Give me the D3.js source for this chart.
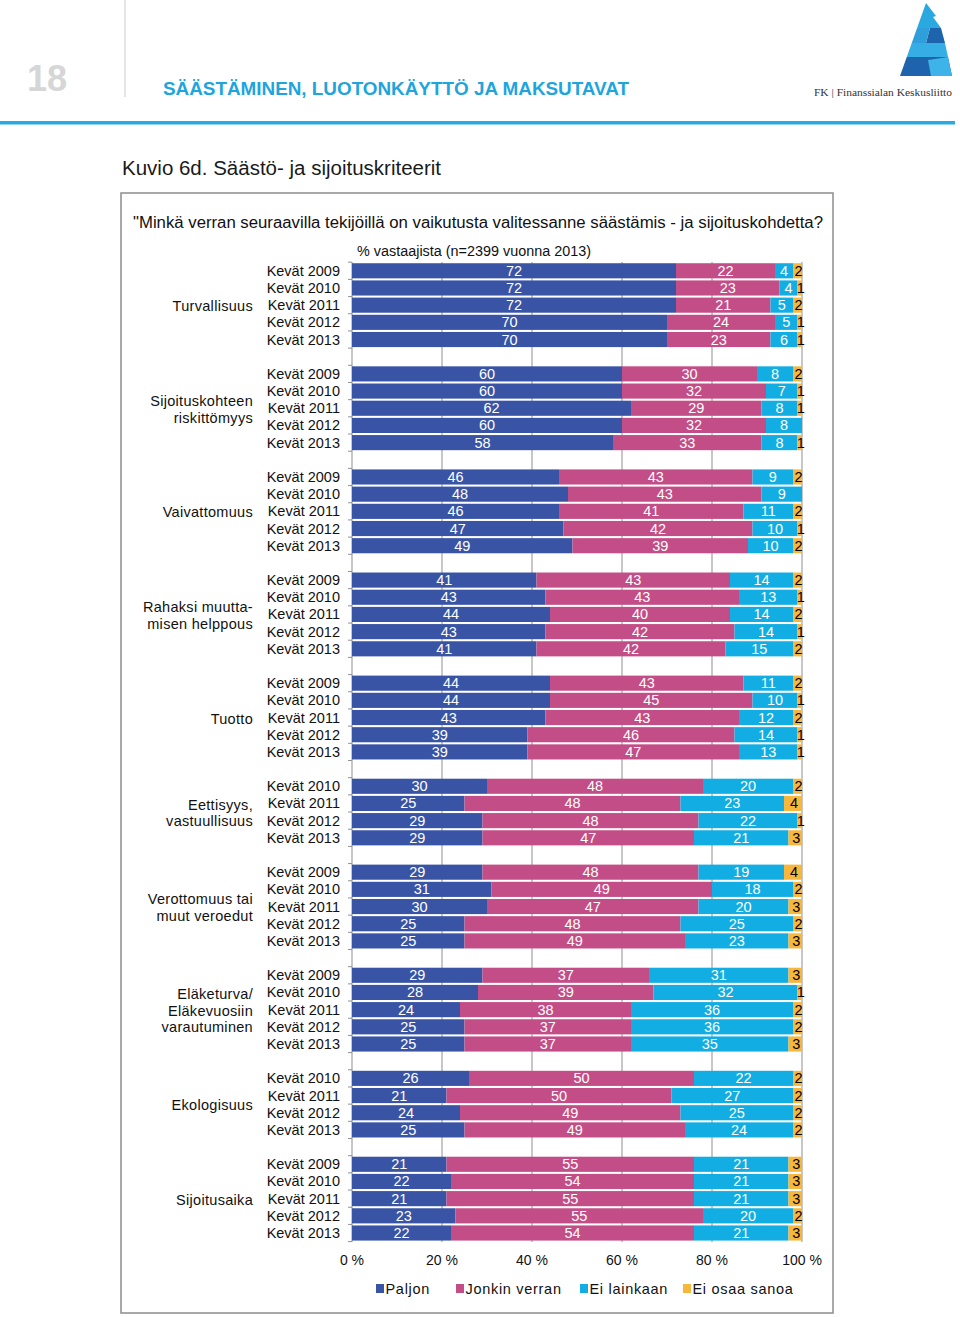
<!DOCTYPE html>
<html>
<head>
<meta charset="utf-8">
<script src="https://cdn.jsdelivr.net/npm/d3@7"></script>
<style>
  html, body { margin: 0; padding: 0; background: #fff; }
  svg { display: block; font-family: "Liberation Sans", Arial, sans-serif; }
</style>
</head>
<body>
<svg id="chart" width="960" height="1317"></svg>
<script>
// ---------- DATA ----------
const groupLabels = [
  ["Turvallisuus"],
  ["Sijoituskohteen", "riskittömyys"],
  ["Vaivattomuus"],
  ["Rahaksi muutta-", "misen helppous"],
  ["Tuotto"],
  ["Eettisyys,", "vastuullisuus"],
  ["Verottomuus tai", "muut veroedut"],
  ["Eläketurva/", "Eläkevuosiin", "varautuminen"],
  ["Ekologisuus"],
  ["Sijoitusaika"]
];
const groupYears = [
  ["Kevät 2009", "Kevät 2010", "Kevät 2011", "Kevät 2012", "Kevät 2013"],
  ["Kevät 2009", "Kevät 2010", "Kevät 2011", "Kevät 2012", "Kevät 2013"],
  ["Kevät 2009", "Kevät 2010", "Kevät 2011", "Kevät 2012", "Kevät 2013"],
  ["Kevät 2009", "Kevät 2010", "Kevät 2011", "Kevät 2012", "Kevät 2013"],
  ["Kevät 2009", "Kevät 2010", "Kevät 2011", "Kevät 2012", "Kevät 2013"],
  ["Kevät 2010", "Kevät 2011", "Kevät 2012", "Kevät 2013"],
  ["Kevät 2009", "Kevät 2010", "Kevät 2011", "Kevät 2012", "Kevät 2013"],
  ["Kevät 2009", "Kevät 2010", "Kevät 2011", "Kevät 2012", "Kevät 2013"],
  ["Kevät 2010", "Kevät 2011", "Kevät 2012", "Kevät 2013"],
  ["Kevät 2009", "Kevät 2010", "Kevät 2011", "Kevät 2012", "Kevät 2013"]
];
const seriesNames = ["Paljon", "Jonkin verran", "Ei lainkaan", "Ei osaa sanoa"];
const paljon = [
  72, 72, 72, 70, 70,
  60, 60, 62, 60, 58,
  46, 48, 46, 47, 49,
  41, 43, 44, 43, 41,
  44, 44, 43, 39, 39,
  30, 25, 29, 29,
  29, 31, 30, 25, 25,
  29, 28, 24, 25, 25,
  26, 21, 24, 25,
  21, 22, 21, 23, 22
];
const jonkinVerran = [
  22, 23, 21, 24, 23,
  30, 32, 29, 32, 33,
  43, 43, 41, 42, 39,
  43, 43, 40, 42, 42,
  43, 45, 43, 46, 47,
  48, 48, 48, 47,
  48, 49, 47, 48, 49,
  37, 39, 38, 37, 37,
  50, 50, 49, 49,
  55, 54, 55, 55, 54
];
const eiLainkaan = [
  4, 4, 5, 5, 6,
  8, 7, 8, 8, 8,
  9, 9, 11, 10, 10,
  14, 13, 14, 14, 15,
  11, 10, 12, 14, 13,
  20, 23, 22, 21,
  19, 18, 20, 25, 23,
  31, 32, 36, 36, 35,
  22, 27, 25, 24,
  21, 21, 21, 20, 21
];
const eiOsaaSanoa = [
  2, 1, 2, 1, 1,
  2, 1, 1, 0, 1,
  2, 0, 2, 1, 2,
  2, 1, 2, 1, 2,
  2, 1, 2, 1, 1,
  2, 4, 1, 3,
  4, 2, 3, 2, 3,
  3, 1, 2, 2, 3,
  2, 2, 2, 2,
  3, 3, 3, 2, 3
];
const xTicks = [0, 20, 40, 60, 80, 100];
const colors = ["#3954a5", "#c34d86", "#12ade2", "#f6b73c"];

// ---------- BUILD ROWS ----------
const rows = [];
const bandKeys = [];
let idx = 0;
groupYears.forEach((yrs, gi) => {
  if (gi > 0) bandKeys.push("gap" + gi);
  yrs.forEach(yr => {
    const key = gi + "|" + yr;
    bandKeys.push(key);
    rows.push({
      key, gi, year: yr,
      "Paljon": paljon[idx],
      "Jonkin verran": jonkinVerran[idx],
      "Ei lainkaan": eiLainkaan[idx],
      "Ei osaa sanoa": eiOsaaSanoa[idx]
    });
    idx++;
  });
});

const svg = d3.select("#chart");

// ---------- HEADER ----------
svg.append("text").attr("x", 27).attr("y", 91)
  .attr("font-size", 36).attr("font-weight", "bold").attr("fill", "#d6d6d6")
  .text("18");
svg.append("line").attr("x1", 125).attr("x2", 125).attr("y1", 0).attr("y2", 97)
  .attr("stroke", "#dcdcdc").attr("stroke-width", 1.5);
svg.append("text").attr("x", 163).attr("y", 95)
  .attr("font-size", 19).attr("font-weight", "bold").attr("fill", "#1ea5dc")
  .attr("textLength", 466).attr("lengthAdjust", "spacingAndGlyphs")
  .text("SÄÄSTÄMINEN, LUOTONKÄYTTÖ JA MAKSUTAVAT");
svg.append("rect").attr("x", 0).attr("y", 121).attr("width", 955).attr("height", 3.5)
  .attr("fill", "#29abe2");

// logo
const logo = svg.append("g");
const lx = yy => 926 - 26 * (yy - 3) / 73;
logo.append("polygon").attr("fill", "#2aa8e0")
  .attr("points", [[926, 3], [936, 16], [933, 17], [941, 28], [lx(28), 28]].join(" "));
logo.append("polygon").attr("fill", "#1d64ad")
  .attr("points", [[930, 28], [941, 28], [945, 43], [926, 43]].join(" "));
logo.append("polygon").attr("fill", "#2f9fdc")
  .attr("points", [[lx(28), 28], [930, 28], [926, 43], [lx(43), 43]].join(" "));
logo.append("polygon").attr("fill", "#35aee6")
  .attr("points", [[lx(43), 43], [945, 43], [948, 57], [lx(57), 57]].join(" "));
logo.append("polygon").attr("fill", "#1d64ad")
  .attr("points", [[lx(57), 57], [948, 57], [952, 76], [900, 76]].join(" "));
logo.append("polygon").attr("fill", "#3db3ea")
  .attr("points", [[928, 60], [948, 57], [952, 76], [931, 76]].join(" "));
svg.append("text").attr("x", 814).attr("y", 96)
  .attr("font-family", "'Liberation Serif', 'DejaVu Serif', serif")
  .attr("font-size", 11).attr("fill", "#333")
  .attr("textLength", 138).attr("lengthAdjust", "spacingAndGlyphs")
  .text("FK | Finanssialan Keskusliitto");

// ---------- TITLES ----------
svg.append("text").attr("x", 122).attr("y", 175)
  .attr("font-size", 20).attr("fill", "#1a1a1a")
  .attr("textLength", 319).attr("lengthAdjust", "spacingAndGlyphs")
  .text("Kuvio 6d. Säästö- ja sijoituskriteerit");

svg.append("rect").attr("x", 121).attr("y", 193).attr("width", 712).attr("height", 1120)
  .attr("fill", "none").attr("stroke", "#8c8c8c").attr("stroke-width", 1.5);

svg.append("text").attr("x", 133).attr("y", 228)
  .attr("font-size", 16).attr("fill", "#111")
  .attr("textLength", 690).attr("lengthAdjust", "spacingAndGlyphs")
  .text("\"Minkä verran seuraavilla tekijöillä on vaikutusta valitessanne säästämis - ja sijoituskohdetta?");

svg.append("text").attr("x", 357).attr("y", 256)
  .attr("font-size", 14).attr("fill", "#111")
  .attr("textLength", 234).attr("lengthAdjust", "spacingAndGlyphs")
  .text("% vastaajista (n=2399 vuonna 2013)");

// ---------- SCALES ----------
const x = d3.scaleLinear().domain([0, 100]).range([352, 802]);
const y = d3.scaleBand().domain(bandKeys).range([262.2, 1241.6])
  .paddingInner(0.12).paddingOuter(0.06);

// gridlines
svg.append("g").selectAll("line").data(xTicks.filter(t => t > 0)).join("line")
  .attr("x1", d => x(d)).attr("x2", d => x(d))
  .attr("y1", 262).attr("y2", 1242)
  .attr("stroke", "#8f8f8f").attr("stroke-width", 1);

// left axis line + ticks at band boundaries
const step = y.step();
const boundaries = d3.range(bandKeys.length + 1).map(i => 262.2 + i * step);
svg.append("line").attr("x1", 352).attr("x2", 352).attr("y1", 262).attr("y2", 1242)
  .attr("stroke", "#8f8f8f");
svg.append("g").selectAll("line").data(boundaries).join("line")
  .attr("x1", 348).attr("x2", 352).attr("y1", d => d).attr("y2", d => d)
  .attr("stroke", "#8f8f8f");

// ---------- BARS ----------
const stack = d3.stack().keys(seriesNames);
const stacked = stack(rows);
const layers = svg.append("g").selectAll("g").data(stacked).join("g")
  .attr("fill", (d, i) => colors[i]);
layers.selectAll("rect").data(d => d).join("rect")
  .attr("x", d => x(d[0]))
  .attr("width", d => Math.max(0, x(d[1]) - x(d[0])))
  .attr("y", d => y(d.data.key))
  .attr("height", y.bandwidth());

// value labels
const labels = svg.append("g").attr("font-size", 14.5).attr("text-anchor", "middle");
stacked.forEach((layer, li) => {
  labels.append("g").selectAll("text").data(layer.filter(d => d[1] - d[0] > 0)).join("text")
    .attr("x", d => x((d[0] + d[1]) / 2) + (li === 3 ? 1 : 0))
    .attr("y", d => y(d.data.key) + y.bandwidth() / 2 + 5)
    .attr("fill", li === 3 ? "#000" : "#fff")
    .text(d => d[1] - d[0]);
});

// ---------- ROW LABELS ----------
svg.append("g").attr("font-size", 14.5).attr("text-anchor", "end").attr("fill", "#111")
  .selectAll("text").data(rows).join("text")
  .attr("x", 340)
  .attr("y", d => y(d.key) + y.bandwidth() / 2 + 5)
  .text(d => d.year);

const gl = svg.append("g").attr("font-size", 14.5).attr("text-anchor", "end").attr("fill", "#111")
  .attr("letter-spacing", 0.3);
groupLabels.forEach((lines, gi) => {
  const grs = rows.filter(r => r.gi === gi);
  const c = (y(grs[0].key) + y(grs[grs.length - 1].key) + y.bandwidth()) / 2;
  const lh = 16.7;
  const t = gl.append("text").attr("x", 253);
  lines.forEach((ln, li) => {
    t.append("tspan").attr("x", 253)
      .attr("y", c + 6 + (li - (lines.length - 1) / 2) * lh)
      .text(ln);
  });
});

// ---------- X AXIS LABELS ----------
svg.append("g").attr("font-size", 14).attr("text-anchor", "middle").attr("fill", "#111")
  .selectAll("text").data(xTicks).join("text")
  .attr("x", d => x(d))
  .attr("y", 1265)
  .text(d => d + " %");

// ---------- LEGEND ----------
const legendX = [376, 456, 580, 683];
const leg = svg.append("g");
seriesNames.forEach((s, i) => {
  leg.append("rect").attr("x", legendX[i]).attr("y", 1284).attr("width", 8).attr("height", 9)
    .attr("fill", colors[i]);
  leg.append("text").attr("x", legendX[i] + 9.5).attr("y", 1294)
    .attr("font-size", 14.5).attr("letter-spacing", 0.7).attr("fill", "#111")
    .text(s);
});
</script>
</body>
</html>
